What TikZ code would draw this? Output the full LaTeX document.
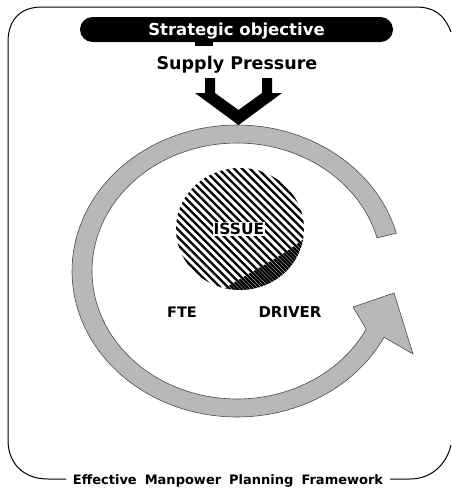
\documentclass[tikz,border=0pt]{standalone}
\usepackage{fontspec}
\newfontfamily\hb{DejaVu Sans}
\tikzset{
  frame/.style={draw=black, line width=1pt},
  ring/.style={fill=black!28, draw=black!70, line width=0.6pt},
  hatchline/.style={line width=2.3pt, black},
  lbl/.style={inner sep=0pt, anchor=base, text=black},
}
\newcommand{\fsz}[1]{\hb\bfseries\fontsize{#1}{#1}\selectfont}
\begin{document}
\begin{tikzpicture}[x=1pt,y=-1pt]
\useasboundingbox (0,0) rectangle (452,490);
% outer frame (open on the right)
\draw[frame] (451,32) .. controls (444,14) and (434,7) .. (415,7) -- (42,7)
   .. controls (20,7) and (8,20) .. (8,42) -- (8,440)
   .. controls (8,462) and (22,479) .. (48,479) -- (66,479);
\draw[frame] (390,479) -- (410,479) .. controls (430,479) and (446,466) .. (451,445);
% title pill
\node[fill=black, rounded corners=12.5pt, minimum width=313pt, minimum height=25pt, inner sep=0pt] (obj) at (236.5,29.5) {};
\fill (195,40) rectangle (213,46);
\node[lbl, text=white, font=\fsz{16.5}] (objt) at (236.5,35.5) {Strategic objective};
\node[lbl, font=\fsz{17.5}] (sup) at (237,69) {Supply Pressure};
% cycle ring with arrowhead
\filldraw[ring] plot[domain=-15:-333, samples=120] ({237+165*cos(\x)},{271+146*sin(\x)})
   -- (413,354) -- (394,293) -- (353,307)
   -- plot[domain=-333:-15, samples=120] ({237+145*cos(\x)},{271+128*sin(\x)}) -- cycle;
% chevron arrow
\fill (195,93) -- (205,93) -- (205,78) -- (215,78) -- (215,93) -- (238.5,110)
   -- (262,93) -- (262,78) -- (272,78) -- (272,93) -- (282,93) -- (238.5,125) -- cycle;
% hatched issue circle
\begin{scope}
  \clip (240,229) ellipse [x radius=64, y radius=61];
  \foreach \k in {-20,...,20}
    \draw[hatchline] ({240+\k*7.8-90},{229-90}) -- ++(180,180);
  \clip (222,290) .. controls (250,272) and (280,258) .. (305,238) -- (330,330) -- (220,330) -- cycle;
  \foreach \k in {-20,...,20}
    \draw[hatchline] ({240+\k*7.8+3.9-90},{229-90}) -- ++(180,180);
\end{scope}
\node[lbl, font=\fsz{15.5}, fill=white, inner sep=1.2pt] (iss) at (239,234.5) {ISSUE};
\node[lbl, font=\fsz{14.5}] (fte) at (182,317) {FTE};
\node[lbl, font=\fsz{15}] (drv) at (290,317) {DRIVER};
\node[lbl, font=\fsz{13}] (capt) at (228,484.5) {Effective\hspace{8pt}Manpower\hspace{8pt}Planning\hspace{8pt}Framework};
\end{tikzpicture}
\end{document}
